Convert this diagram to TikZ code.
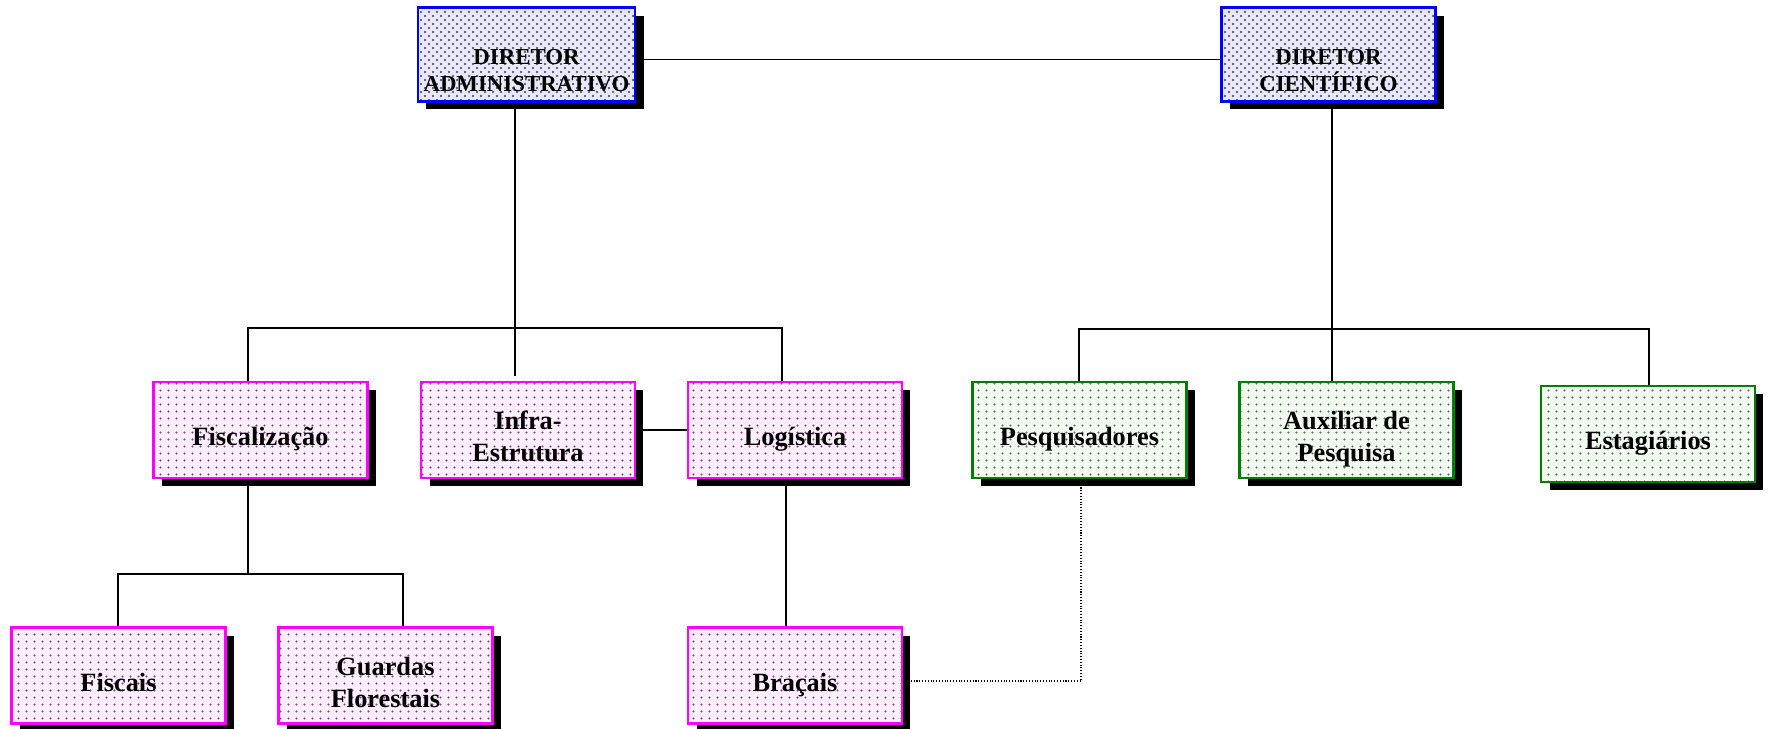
\documentclass[tikz,border=0pt]{standalone}
\usepackage{fontspec}
\setmainfont{Liberation Serif}
\usetikzlibrary{shadows,patterns.meta}

\definecolor{dirline}{RGB}{0,0,255}
\definecolor{dirbg}{RGB}{232,232,246}
\definecolor{dirdot}{RGB}{55,55,95}
\definecolor{admline}{RGB}{255,0,255}
\definecolor{admbg}{RGB}{255,238,255}
\definecolor{admdot}{RGB}{120,70,120}
\definecolor{sciline}{RGB}{0,128,0}
\definecolor{scibg}{RGB}{242,250,242}
\definecolor{scidot}{RGB}{95,110,95}

\tikzdeclarepattern{
	name=finedots,
	type=uncolored,
	bounding box={(0,0) and (0.16cm,0.16cm)},
	tile size={(0.16cm,0.16cm)},
	code={
		\fill (0.04cm,0.04cm) circle (0.021cm);
		\fill (0.12cm,0.12cm) circle (0.021cm);
	}
}
\tikzdeclarepattern{
	name=sparsedots,
	type=uncolored,
	bounding box={(0,0) and (0.15cm,0.14cm)},
	tile size={(0.15cm,0.14cm)},
	code={\fill (0.075cm,0.07cm) circle (0.022cm);}
}

\begin{document}
\begin{tikzpicture}[x=0.02cm, y=-0.02cm,
	box/.style={rectangle, line width=1.2pt, minimum width=4.28cm, minimum height=1.92cm, align=center,
		font=\bfseries\fontsize{15}{18}\selectfont, text height=20pt, text depth=2pt,
		drop shadow={shadow xshift=0.17cm, shadow yshift=-0.16cm, opacity=1, fill=black}},
	twoline/.style={text height=38pt},
	dirbox/.style={box, draw=dirline, preaction={fill=dirbg}, pattern=finedots, pattern color=dirdot,
		minimum height=1.88cm, font=\bfseries\fontsize{13}{15.3}\selectfont, text height=42pt, text depth=0pt},
	admbox/.style={box, draw=admline, preaction={fill=admbg}, pattern=sparsedots, pattern color=admdot},
	scibox/.style={box, draw=sciline, preaction={fill=scibg}, pattern=sparsedots, pattern color=scidot},
	link/.style={line width=1.1pt}]
	\useasboundingbox (0,0) rectangle (1769,729);

	\node[dirbox] (dirA) at (526.5,54.5) {DIRETOR\\ADMINISTRATIVO};
	\node[dirbox] (dirC) at (1328.5,54.5) {DIRETOR\\CIENTÍFICO};

	\node[admbox] (fisc) at (260.5,430) {Fiscalização};
	\node[admbox, twoline] (infra) at (528,430) {Infra-\\Estrutura};
	\node[admbox] (logi) at (795,430) {Logística};
	\node[scibox] (pesq) at (1079.5,430) {Pesquisadores};
	\node[scibox, twoline] (aux) at (1346.5,430) {Auxiliar de\\Pesquisa};
	\node[scibox] (estag) at (1648,434) {Estagiários};

	\node[admbox] (fiscais) at (118.5,675.5) {Fiscais};
	\node[admbox, twoline] (guardas) at (385.5,675.5) {Guardas\\Florestais};
	\node[admbox] (bracais) at (795,675.5) {Braçais};

	\coordinate (busA) at (515,328);
	\coordinate (busAl) at (248,328);
	\coordinate (busAr) at (782,328);
	\coordinate (busF) at (248,574);
	\coordinate (busFl) at (118,574);
	\coordinate (busFr) at (403,574);
	\coordinate (busC) at (1332,329);
	\coordinate (busCl) at (1079,329);
	\coordinate (busCr) at (1649,329);
	\coordinate (dotCorner) at (1081,681);

	\draw[link] ([yshift=-0.1cm]dirA.east) -- ([yshift=-0.1cm]dirC.west);
	\draw[link, shorten >=0.1cm] (dirA.south -| busA) -- (busA |- infra.north);
	\draw[link] (busAl |- fisc.north) -- (busAl) -- (busAr) -- (busAr |- logi.north);
	\draw[link] (infra.east) -- (logi.west);
	\draw[link] (fisc.south -| busF) -- (busF);
	\draw[link] (busFl |- fiscais.north) -- (busFl) -- (busFr) -- (busFr |- guardas.north);
	\draw[link] ([xshift=-0.18cm]logi.south) -- ([xshift=-0.18cm]bracais.north);
	\draw[link] (dirC.south -| busC) -- (busC |- aux.north);
	\draw[link] (busCl |- pesq.north) -- (busCl) -- (busCr) -- (busCr |- estag.north);
	\draw[densely dotted, line width=0.6pt] (pesq.south -| dotCorner) -- (dotCorner) -- (dotCorner -| bracais.east);
\end{tikzpicture}
\end{document}
